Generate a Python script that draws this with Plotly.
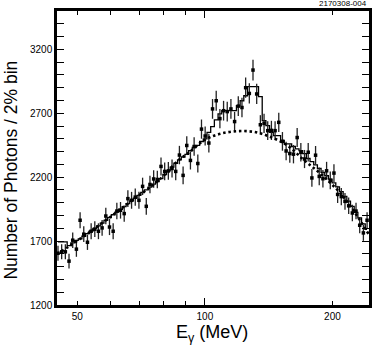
import plotly.graph_objects as go

# Bin centres (MeV), 2% bins
energy = [45.00, 45.91, 46.84, 47.78, 48.75, 49.74, 50.75, 51.77, 52.82, 53.89,
          54.97, 56.07, 57.20, 58.36, 59.54, 60.74, 61.97, 63.22, 64.50, 65.80,
          67.13, 68.49, 69.87, 71.28, 72.72, 74.19, 75.69, 77.22, 78.78, 80.37,
          81.99, 83.65, 85.34, 87.07, 88.83, 90.62, 92.45, 94.32, 96.23, 98.17,
          100.15, 102.18, 104.24, 106.35, 108.50, 110.69, 112.92, 115.20, 117.53, 119.91,
          122.33, 124.80, 127.32, 129.89, 132.52, 135.19, 137.93, 140.71, 143.56, 146.46,
          149.42, 152.43, 155.51, 158.66, 161.86, 165.13, 168.47, 171.87, 175.35, 178.89,
          182.50, 186.18, 189.94, 193.78, 197.69, 201.68, 205.75, 209.91, 214.15, 218.48,
          222.89, 227.39, 231.99, 236.68, 241.46]

counts = [1605, 1616, 1616, 1543, 1707, 1637, 1863, 1754, 1691, 1777,
          1793, 1777, 1803, 1896, 1810, 1777, 1935, 1941, 1915, 2032,
          2019, 2044, 2019, 2128, 1972, 2143, 2186, 2182, 2284, 2245,
          2249, 2268, 2245, 2373, 2214, 2448, 2331, 2440, 2307, 2576,
          2522, 2467, 2734, 2798, 2658, 2720, 2713, 2734, 2635, 2756,
          2745, 2900, 2855, 3038, 2851, 2610, 2621, 2564, 2566, 2564,
          2629, 2480, 2405, 2385, 2380, 2510, 2395, 2342, 2395, 2194,
          2372, 2206, 2188, 2250, 2175, 2232, 2065, 2048, 2011, 1976,
          1920, 1935, 1824, 1764, 1863]

errors = [59, 59, 59, 58, 61, 60, 63, 62, 60, 62,
          62, 62, 62, 64, 63, 62, 65, 65, 64, 66,
          66, 67, 66, 68, 65, 68, 69, 69, 70, 70,
          70, 70, 70, 72, 69, 73, 71, 73, 71, 75,
          74, 73, 77, 78, 76, 77, 77, 77, 76, 77,
          77, 79, 79, 81, 79, 75, 75, 74, 75, 74,
          75, 73, 72, 72, 72, 74, 72, 71, 72, 69,
          72, 69, 69, 70, 69, 69, 67, 67, 66, 65,
          64, 65, 63, 62, 63]

fit = [1694, 1694, 1694, 1665, 1686, 1706, 1718, 1738, 1758, 1779,
       1799, 1819, 1841, 1862, 1884, 1906, 1927, 1949, 1970, 1993,
       2014, 2036, 2058, 2080, 2101, 2122, 2145, 2166, 2189, 2221,
       2250, 2279, 2309, 2336, 2358, 2379, 2408, 2432, 2448, 2479,
       2500, 2551, 2596, 2648, 2695, 2720, 2720, 2720, 2720, 2759,
       2798, 2837, 2908, 2908, 2908, 2830, 2642, 2603, 2551, 2525,
       2525, 2487, 2461, 2461, 2440, 2422, 2408, 2385, 2346, 2321,
       2296, 2268, 2238, 2211, 2184, 2156, 2124, 2087, 2050, 2012,
       1972, 1925, 1881, 1835, 1791]

bg_energy = [44.8, 50.6, 56.3, 62.7, 69.9, 77.8, 86.6, 91.4, 100.2, 109.2,
             119.7, 131.2, 143.0, 156.6, 171.7, 187.1, 205.0, 219.9, 243.6]
bg_value = [1598, 1715, 1824, 1941, 2058, 2175, 2331, 2389, 2494, 2541,
            2560, 2553, 2514, 2448, 2331, 2229, 2104, 1980, 1754]

x_ticks = [50, 100, 200]
x_minor = [60, 70, 80, 90]
y_ticks = [1200, 1700, 2200, 2700, 3200]

FONT = "Liberation Sans, Arial, sans-serif"
xr = [1.6509, 2.3874]
yr = [1200, 3500]

fig = go.Figure()
fig.add_trace(go.Scatter(
    x=bg_energy, y=bg_value, mode="lines", xaxis="x2",
    line=dict(color="black", width=2.6, dash="2.5px,2.8px", shape="spline"),
    showlegend=False, hoverinfo="skip"))
fig.add_trace(go.Scatter(
    x=energy, y=fit, mode="lines",
    line=dict(color="black", width=1.3, shape="hvh"),
    showlegend=False))
fig.add_trace(go.Scatter(
    x=energy, y=counts, mode="markers",
    marker=dict(color="black", size=3.5, symbol="square"),
    error_y=dict(type="data", array=errors, thickness=1.3, width=0, color="#222"),
    showlegend=False))

fig.update_layout(
    width=374, height=346,
    margin=dict(l=57, r=2, t=11, b=41),
    paper_bgcolor="white", plot_bgcolor="white",
    font=dict(family=FONT, color="black", size=10),
    xaxis=dict(
        type="log", range=xr, showgrid=False, zeroline=False,
        showline=True, linewidth=2.5, linecolor="black", mirror="allticks",
        ticks="inside", ticklen=4, tickwidth=1.2, tickcolor="black",
        tickmode="array", tickvals=x_ticks, ticktext=[str(v) for v in x_ticks],
        tickfont=dict(size=10, family=FONT),
        minor=dict(tickmode="array", tickvals=x_minor, ticks="inside",
                   ticklen=4, tickwidth=1.2, tickcolor="black", showgrid=False),
    ),
    xaxis2=dict(
        type="log", range=xr, overlaying="x", side="bottom", showgrid=False,
        zeroline=False, showline=False, mirror="allticks",
        ticks="inside", ticklen=7, tickwidth=1.2, tickcolor="black",
        tickmode="array", tickvals=[100], ticktext=[""], showticklabels=False,
    ),
    yaxis=dict(
        range=yr, showgrid=False, zeroline=False,
        showline=True, linewidth=2.5, linecolor="black", mirror="allticks",
        ticks="inside", ticklen=7, tickwidth=1.2, tickcolor="black",
        tickmode="array", tickvals=y_ticks, ticktext=[str(v) for v in y_ticks],
        tickfont=dict(size=10, family=FONT),
        minor=dict(dtick=100, tick0=1200, ticks="inside", ticklen=4,
                   tickwidth=1.2, tickcolor="black", showgrid=False),
    ),
    annotations=[
        dict(text="E<sub>γ</sub> (MeV)", xref="paper", yref="paper",
             x=0.4975, y=-0.098, xanchor="center", yanchor="middle",
             showarrow=False, font=dict(size=18, family=FONT)),
        dict(text="Number of Photons / 2% bin", xref="paper", yref="paper",
             x=-0.148, y=0.46, xanchor="center", yanchor="middle", textangle=-90,
             showarrow=False, font=dict(size=17.5, family=FONT)),
        dict(text="2170308-004", xref="paper", yref="paper",
             x=1.0, y=1.024, xanchor="right", yanchor="middle",
             showarrow=False, font=dict(size=8, family=FONT)),
    ],
)

fig.write_html("out.html", config={"displayModeBar": False},
               post_script="document.body.style.margin='0';document.body.style.overflow='hidden';")
